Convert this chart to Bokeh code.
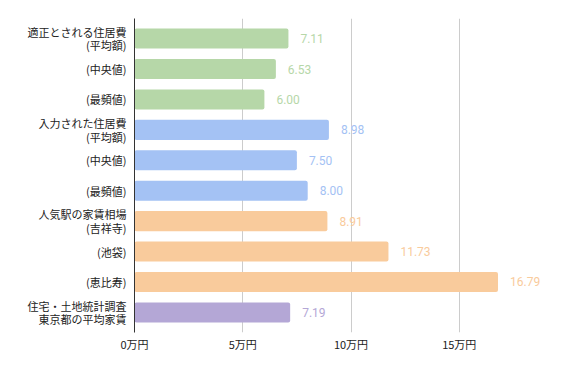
from bokeh.plotting import figure
from bokeh.models import ColumnDataSource, Range1d, FixedTicker
from bokeh.core.properties import value
from bokeh.embed import file_html
from bokeh.resources import INLINE

categories = [
    "適正とされる住居費\n(平均額)",
    "(中央値)",
    "(最頻値)",
    "入力された住居費\n(平均額)",
    "(中央値)",
    "(最頻値)",
    "人気駅の家賃相場\n(吉祥寺)",
    "(池袋)",
    "(恵比寿)",
    "住宅・土地統計調査\n東京都の平均家賃",
]
values = [7.11, 6.53, 6.00, 8.98, 7.50, 8.00, 8.91, 11.73, 16.79, 7.19]
groups = ["適正", "適正", "適正", "入力", "入力", "入力", "人気駅", "人気駅", "人気駅", "統計"]
x_ticks = [0, 5, 10, 15, 20]
x_tick_labels = ["0万円", "5万円", "10万円", "15万円", ""]

group_colors = {"適正": "#b6d7a8", "入力": "#a4c2f4", "人気駅": "#f9cb9c", "統計": "#b4a7d6"}

n = len(categories)
ys = list(range(n))
colors = [group_colors[g] for g in groups]
labels = ["%.2f" % v for v in values]

src = ColumnDataSource(dict(y=ys, v=values, c=colors, lab=labels))

p = figure(width=586, height=371, output_backend="svg", toolbar_location=None,
           x_range=Range1d(0, 20), y_range=Range1d(n - 1 + 0.66, -0.66))
p.min_border_left = 134
p.min_border_right = 19
p.min_border_top = 18
p.min_border_bottom = 39
p.outline_line_color = None
p.background_fill_color = "white"
p.border_fill_color = "white"

p.hbar(y="y", left=0, right="v", height=0.66, color="c", source=src, line_color=None,
       border_radius=2)
p.text(x="v", y="y", text="lab", source=src, x_offset=12, text_color="c",
       text_baseline="middle", text_align="left", text_font_size="12px",
       text_font=value("Roboto"))

# grid
p.ygrid.grid_line_color = None
p.xgrid.grid_line_color = "#cccccc"
p.xgrid.ticker = FixedTicker(ticks=x_ticks)

# x axis
p.xaxis.ticker = FixedTicker(ticks=x_ticks)
p.xaxis.major_label_overrides = {t: l for t, l in zip(x_ticks, x_tick_labels)}
p.xaxis.axis_line_color = None
p.xaxis.major_tick_line_color = None
p.xaxis.minor_tick_line_color = None
p.xaxis.major_label_standoff = -3
p.xaxis.major_label_text_font = "Noto Sans CJK JP"
p.xaxis.major_label_text_font_size = "11px"
p.xaxis.major_label_text_color = "#222222"

# y axis: split two-line labels into separate ticks
line_off = 0.22
tick_pos = []
tick_text = {}
for y, c in zip(ys, categories):
    parts = c.split("\n")
    if len(parts) == 1:
        tick_pos.append(float(y))
        tick_text[float(y)] = parts[0]
    else:
        a, b = round(y - line_off, 2), round(y + line_off, 2)
        tick_pos += [a, b]
        tick_text[a] = parts[0]
        tick_text[b] = parts[1]

p.yaxis.ticker = FixedTicker(ticks=tick_pos)
p.yaxis.major_label_overrides = tick_text
p.yaxis.axis_line_color = "#333333"
p.yaxis.major_tick_line_color = None
p.yaxis.minor_tick_line_color = None
p.yaxis.major_label_standoff = 2
p.yaxis.major_label_text_font = "Noto Sans CJK JP"
p.yaxis.major_label_text_font_size = "11px"
p.yaxis.major_label_text_color = "#222222"
p.yaxis.major_label_text_align = "right"

open("out.html", "w").write(file_html(p, INLINE))
